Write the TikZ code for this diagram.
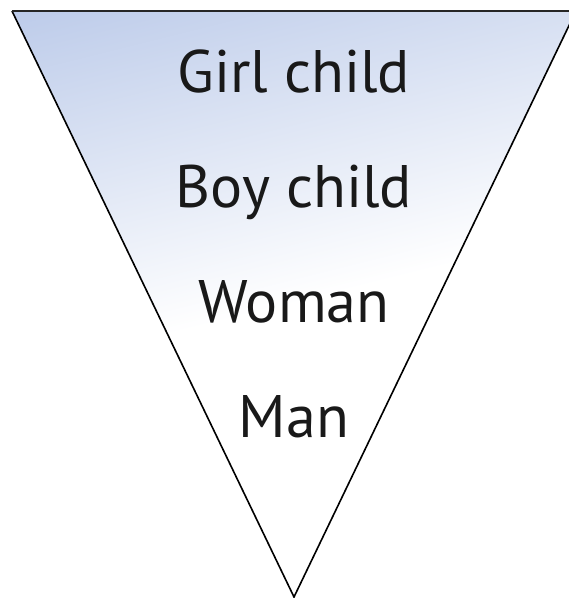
\documentclass[tikz,border=0pt]{standalone}
\usepackage{fontspec}
\setmainfont{PT Sans}
\definecolor{tierblue}{RGB}{146,170,220}
\pgfdeclareverticalshading{tierfade}{100bp}{color(0bp)=(white); color(50bp)=(white); color(100bp)=(tierblue)}
\tikzset{tierlabel/.style={anchor=base, font=\fontsize{60}{72}\selectfont, text=black!90}}

\begin{document}
\begin{tikzpicture}[x=1pt,y=-1pt]
    \useasboundingbox (0,0) rectangle (569,598);
    \clip (0,0) rectangle (569,598);
    \coordinate (tl) at (12,11);
    \coordinate (tr) at (576,11);
    \coordinate (apex) at (294,597);
    \shade[shading=tierfade, shading angle=14]
        (tl)--(tr)--(apex)--cycle;
    \draw[line width=1.6pt, line join=miter] (tr)--(apex)--(tl);
    \draw[line width=2.6pt, black!85] (tl)--(tr);
    \node[tierlabel] (girl) at (294,92) {Girl child};
    \node[tierlabel] (boy) at (294,207) {Boy child};
    \node[tierlabel] (woman) at (294,322) {Woman};
    \node[tierlabel] (man) at (294,437) {Man};
\end{tikzpicture}
\end{document}
